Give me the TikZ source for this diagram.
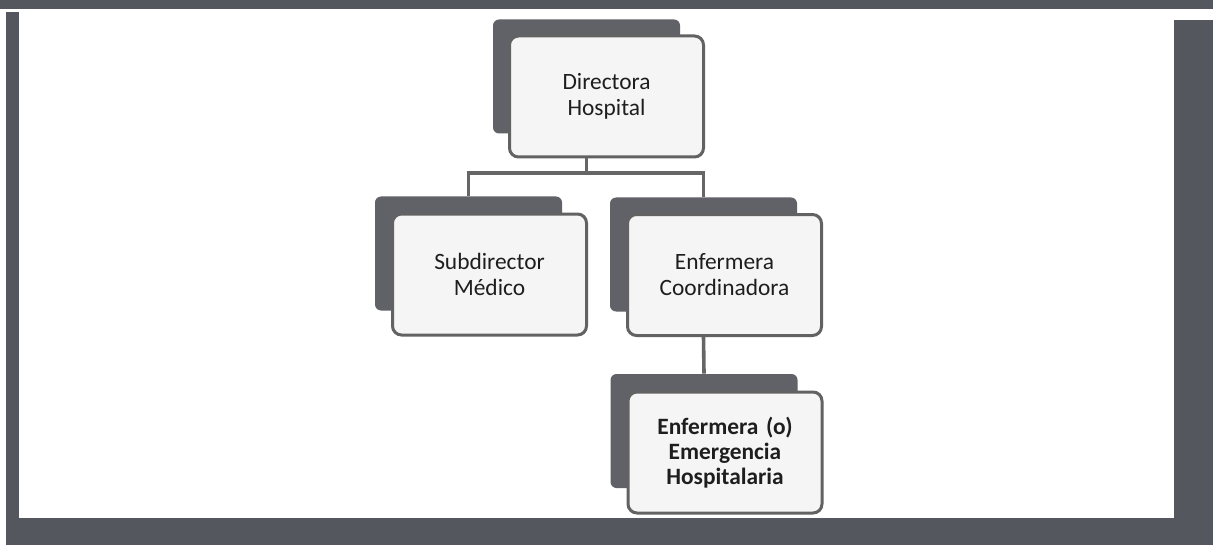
\documentclass[tikz,border=0pt]{standalone}
\usepackage{fontspec}
\setmainfont{Carlito}
\definecolor{band}{HTML}{55575F}
\definecolor{backc}{HTML}{616268}
\definecolor{edgec}{HTML}{626262}
\definecolor{fillc}{HTML}{F5F5F5}
\definecolor{linec}{HTML}{666666}
\definecolor{txt}{HTML}{1E1E1E}
\begin{document}
\begin{tikzpicture}[x=0.5pt,y=-0.5pt,
  backbox/.style={rectangle, rounded corners=3pt, fill=backc, minimum width=93.5pt, minimum height=57pt, inner sep=0pt},
  frontbox/.style={rectangle, rounded corners=4.5pt, draw=edgec, line width=1.5pt, fill=fillc, minimum width=97pt, minimum height=60.5pt, text width=90pt, align=center, font=\fontsize{11.7pt}{13pt}\selectfont, text=txt, inner sep=0pt},
  conn/.style={draw=linec, line width=1.8pt}]
% frame
\fill[white] (0,0) rectangle (1213,545);
\useasboundingbox (0,0) rectangle (1213,545);
\fill[band] (0,0) rectangle (1213,9);
\fill[band] (6,12) rectangle (19,545);
\fill[band] (6,518) rectangle (1213,545);
\fill[band] (1174,20) rectangle (1213,545);
% back boxes
\node[backbox] (dirb) at (586.5,76.5) {};
\node[backbox] (subb) at (468.5,253.5) {};
\node[backbox] (corb) at (703.5,254.5) {};
\node[backbox] (emb) at (704,431) {};
\coordinate (bus) at (0,173);
% connectors
\draw[conn] (subb.north) -- (subb.north |- bus) -- (corb.north |- bus) -- (corb.north);
% front boxes
\node[frontbox] (dir) at (606.5,96.5) {Directora\\Hospital};
\node[frontbox] (sub) at (489.5,274.5) {Subdirector\\Médico};
\node[frontbox] (cor) at (724.5,275) {Enfermera\\Coordinadora};
\node[frontbox, font=\fontsize{11.7pt}{12.5pt}\selectfont\bfseries] (em) at (725,452.5) {Enfermera (o)\\Emergencia\\Hospitalaria};
\draw[conn] (dirb.center |- dir.south) -- (dirb.center |- bus);
\draw[conn] (corb.center |- cor.south) -- (emb.north);
\end{tikzpicture}
\end{document}
